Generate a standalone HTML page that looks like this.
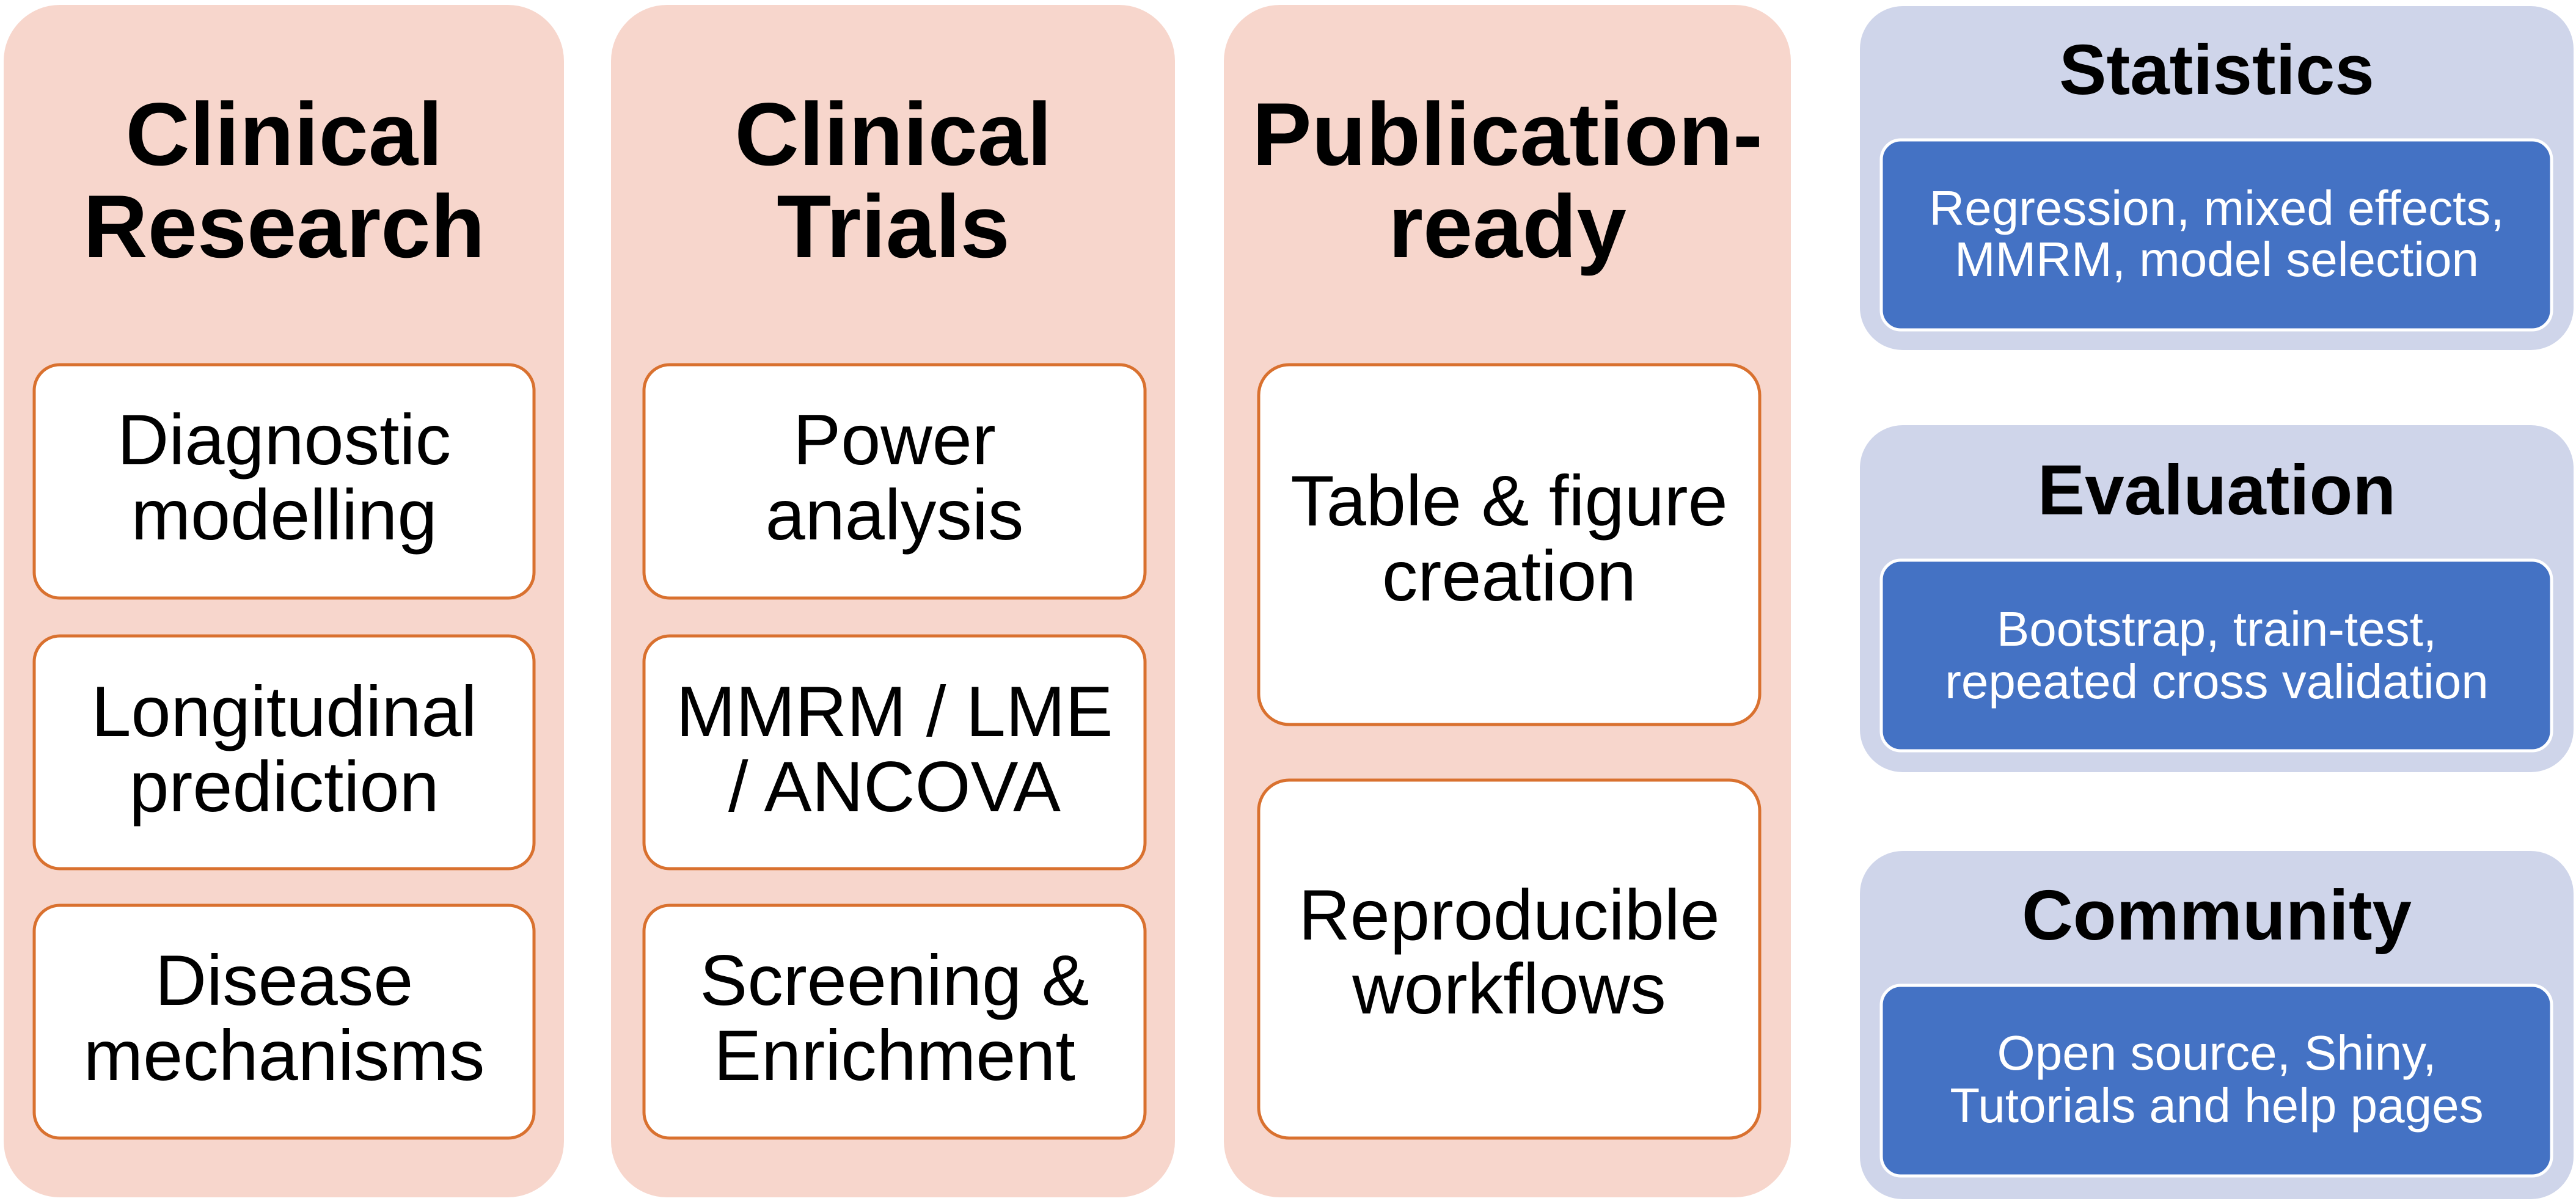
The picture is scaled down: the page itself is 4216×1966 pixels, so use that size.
<!DOCTYPE html>
<html><head><meta charset="utf-8"><style>html,body{margin:0;padding:0;background:#fff}svg{display:block}</style></head>
<body>
<svg width="4216" height="1966" viewBox="0 0 4216 1966" xmlns="http://www.w3.org/2000/svg" font-family="Liberation Sans, Arial, sans-serif">
<g fill="#f7d6cc">
<rect x="6" y="8" width="917" height="1952" rx="92"/>
<rect x="1000" y="8" width="923" height="1952" rx="92"/>
<rect x="2003" y="8" width="928" height="1952" rx="92"/>
</g>
<g fill="#cfd5ea">
<rect x="3044" y="10" width="1168" height="563" rx="70"/>
<rect x="3044" y="696" width="1168" height="568" rx="70"/>
<rect x="3044" y="1393" width="1168" height="570" rx="70"/>
</g>
<g fill="#fff" stroke="#d9712f" stroke-width="5">
<rect x="56" y="597" width="818" height="382" rx="42"/>
<rect x="56" y="1041" width="818" height="381" rx="42"/>
<rect x="56" y="1482" width="818" height="381" rx="42"/>
<rect x="1054" y="597" width="820" height="382" rx="42"/>
<rect x="1054" y="1041" width="820" height="381" rx="42"/>
<rect x="1054" y="1482" width="820" height="381" rx="42"/>
<rect x="2060" y="597" width="820" height="589" rx="50"/>
<rect x="2060" y="1277" width="820" height="586" rx="50"/>
</g>
<g fill="#4472c4" stroke="#fff" stroke-width="5">
<rect x="3079" y="229" width="1097" height="311" rx="32"/>
<rect x="3079" y="917" width="1097" height="312" rx="32"/>
<rect x="3079" y="1613" width="1097" height="312" rx="32"/>
</g>
<g font-weight="bold" font-size="146" text-anchor="middle" fill="#000">
<text x="465" y="270">Clinical</text><text x="465" y="421">Research</text>
<text x="1462" y="270">Clinical</text><text x="1462" y="421">Trials</text>
<text x="2467" y="270">Publication-</text><text x="2467" y="421">ready</text>
</g>
<g font-weight="bold" font-size="116" text-anchor="middle" fill="#000">
<text x="3628" y="154">Statistics</text>
<text x="3628" y="842">Evaluation</text>
<text x="3628" y="1538">Community</text>
</g>
<g font-size="117" text-anchor="middle" fill="#000">
<text x="465" y="760">Diagnostic</text><text x="465" y="883">modelling</text>
<text x="465" y="1205">Longitudinal</text><text x="465" y="1328">prediction</text>
<text x="465" y="1645">Disease</text><text x="465" y="1768">mechanisms</text>
<text x="1464" y="760">Power</text><text x="1464" y="883">analysis</text>
<text x="1464" y="1205">MMRM / LME</text><text x="1464" y="1328">/ ANCOVA</text>
<text x="1464" y="1645">Screening &amp;</text><text x="1464" y="1768">Enrichment</text>
<text x="2470" y="860">Table &amp; figure</text><text x="2470" y="983">creation</text>
<text x="2470" y="1538">Reproducible</text><text x="2470" y="1659">workflows</text>
</g>
<g font-size="80" text-anchor="middle" fill="#fff">
<text x="3628" y="368">Regression, mixed effects,</text><text x="3628" y="452">MMRM, model selection</text>
<text x="3628" y="1057">Bootstrap, train-test,</text><text x="3628" y="1143">repeated cross validation</text>
<text x="3628" y="1751">Open source, Shiny,</text><text x="3628" y="1837">Tutorials and help pages</text>
</g>
</svg>
</body></html>
